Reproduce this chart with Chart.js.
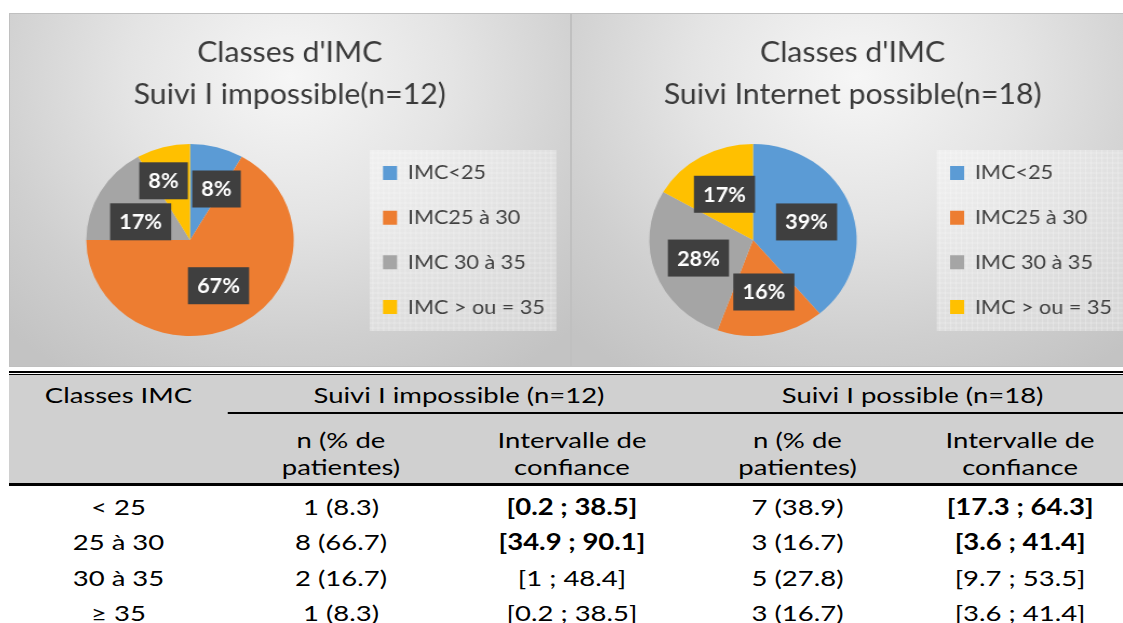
<!DOCTYPE html>
<html>
<head>
<meta charset="utf-8">
<script src="https://cdn.jsdelivr.net/npm/chart.js@4.4.1/dist/chart.umd.min.js"></script>
<style>
  body { margin: 0; width: 1123px; height: 623px; overflow: hidden; position: relative; background: #fff; font-family: Lato, sans-serif; }
  .panel { position: absolute; top: 13px; height: 354px; overflow: hidden;
    background: radial-gradient(ellipse 72% 100% at 50% 18%, #f6f6f6 0%, #e4e4e4 40%, #cfcfcf 75%, #c3c3c3 100%);
    box-shadow: inset 0 0 0 1px #c0c0c0; }
  .panel .wrap { position: absolute; left: 0; top: 0; transform-origin: 0 0; transform: scaleX(1.08); }
  #p1 { left: 9px; width: 562px; }
  #p2 { left: 571px; width: 572px; }
  #tbl { position: absolute; left: 9px; top: 369px; width: 901px; height: 254px; transform-origin: 0 0; transform: scaleX(1.25); }
  #tbl .bar { position: absolute; background: #000; }
  #tbl .c { position: absolute; height: 30px; line-height: 30px; text-align: center; font-size: 22px; color: #000; white-space: nowrap; }
</style>
</head>
<body>
<div class="panel" id="p1"><div class="wrap"><canvas id="c1" width="520" height="354"></canvas></div></div>
<div class="panel" id="p2"><div class="wrap"><canvas id="c2" width="530" height="354"></canvas></div></div>
<div id="tbl"></div>
<script>
// data
const classes = ['IMC<25', 'IMC25 à 30', 'IMC 30 à 35', 'IMC > ou = 35'];
const countsImpossible = [1, 8, 2, 1];
const countsPossible = [7, 3, 5, 3];
const pctLabelsImpossible = ['8%', '67%', '17%', '8%'];
const pctLabelsPossible = ['39%', '16%', '28%', '17%'];
const colors = ['#5B9BD5', '#ED7D31', '#A5A5A5', '#FFC000'];

const rowLabels = ['< 25', '25 à 30', '30 à 35', '≥ 35'];
const pctImpossible = ['8.3', '66.7', '16.7', '8.3'];
const pctPossible = ['38.9', '16.7', '27.8', '16.7'];
const ciImpossible = ['[0.2 ; 38.5]', '[34.9 ; 90.1]', '[1 ; 48.4]', '[0.2 ; 38.5]'];
const ciPossible = ['[17.3 ; 64.3]', '[3.6 ; 41.4]', '[9.7 ; 53.5]', '[3.6 ; 41.4]'];
const boldRows = [true, true, false, false];

// dark boxes with white percentages, pushed apart when they overlap
const labelBoxes = {
  id: 'labelBoxes',
  afterDatasetsDraw(chart, args, opts) {
    const ctx = chart.ctx;
    const arcs = chart.getDatasetMeta(0).data;
    ctx.save();
    ctx.font = 'bold 20px Lato';
    const boxes = arcs.map((arc, i) => {
      const p = arc.getProps(['x', 'y', 'startAngle', 'endAngle', 'outerRadius'], true);
      const mid = (p.startAngle + p.endAngle) / 2;
      const d = p.outerRadius * opts.dist;
      return {
        cx: p.x + Math.cos(mid) * d, cy: p.y + Math.sin(mid) * d,
        w: ctx.measureText(opts.texts[i]).width + 17, h: 37, text: opts.texts[i]
      };
    });
    for (let it = 0; it < 20; it++) {
      for (let a = 0; a < boxes.length; a++) {
        for (let b = a + 1; b < boxes.length; b++) {
          const A = boxes[a], B = boxes[b];
          const ox = (A.w + B.w) / 2 + 4 - Math.abs(A.cx - B.cx);
          const oy = (A.h + B.h) / 2 + 4 - Math.abs(A.cy - B.cy);
          if (ox > 0 && oy > 0) {
            if (ox < oy) {
              const s = Math.sign(A.cx - B.cx) || 1;
              A.cx += s * ox / 2; B.cx -= s * ox / 2;
            } else {
              const s = Math.sign(A.cy - B.cy) || 1;
              A.cy += s * oy / 2; B.cy -= s * oy / 2;
            }
          }
        }
      }
    }
    boxes.forEach(bx => {
      ctx.fillStyle = '#3f3f3f';
      ctx.fillRect(bx.cx - bx.w / 2, bx.cy - bx.h / 2, bx.w, bx.h);
      ctx.fillStyle = '#ffffff';
      ctx.textAlign = 'center';
      ctx.textBaseline = 'middle';
      ctx.fillText(bx.text, bx.cx, bx.cy + 1);
    });
    ctx.restore();
  }
};

// light patterned area behind the legend
const legendPanel = {
  id: 'legendPanel',
  beforeDraw(chart) {
    const lg = chart.legend;
    const ctx = chart.ctx;
    const pad = chart.options.plugins.legend.labels.padding;
    const x = lg.left + pad - 12.4;
    const yc = (lg.top + lg.bottom) / 2;
    ctx.save();
    ctx.fillStyle = 'rgba(255,255,255,0.3)';
    ctx.fillRect(x, yc - 90, 173, 181);
    ctx.strokeStyle = 'rgba(255,255,255,0.25)';
    ctx.lineWidth = 1;
    ctx.beginPath();
    for (let gx = x + 3; gx < x + 173; gx += 5) { ctx.moveTo(gx, yc - 90); ctx.lineTo(gx, yc + 91); }
    for (let gy = yc - 87; gy < yc + 91; gy += 5) { ctx.moveTo(x, gy); ctx.lineTo(x + 173, gy); }
    ctx.stroke();
    ctx.restore();
  }
};

function makePie(id, title, counts, texts, padLeft, boxX) {
  const options = {
    responsive: false,
    animation: false,
    layout: { padding: { top: 0, right: 10, bottom: 13, left: padLeft } },
    plugins: {
      title: {
        display: true,
        text: title,
        color: '#3a3a3a',
        font: { family: 'Lato', size: 28, weight: 'normal', lineHeight: 1.5 },
        padding: { top: 19, bottom: 10 }
      },
      legend: {
        position: 'right',
        fullSize: false,
        labels: {
          color: '#404040',
          font: { family: 'Lato', size: 20 },
          boxWidth: 13,
          boxHeight: 14,
          padding: 24.7
        }
      },
      tooltip: { enabled: false },
      labelBoxes: { texts: texts, dist: 0.55 }
    }
  };
  const chart = new Chart(document.getElementById(id), {
    type: 'pie',
    data: {
      labels: classes,
      datasets: [{ data: counts, backgroundColor: colors, borderWidth: 0, radius: 96 }]
    },
    options: options,
    plugins: [legendPanel, labelBoxes]
  });
  // move the legend so its colour boxes sit where the original has them
  const dx = chart.legend.left + options.plugins.legend.labels.padding - boxX;
  options.layout.padding.right += dx;
  chart.update();
  return chart;
}

makePie('c1', ["Classes d'IMC", 'Suivi I impossible(n=12)'], countsImpossible, pctLabelsImpossible, 13.6, 346.3);
makePie('c2', ["Classes d'IMC", 'Suivi Internet possible(n=18)'], countsPossible, pctLabelsPossible, 10.7, 351);

// table below the charts
const tbl = document.getElementById('tbl');
const edges = [0, 175.2, 356, 544.8, 716.8, 901];

function bar(left, top, width, height, color) {
  const d = document.createElement('div');
  d.className = 'bar';
  Object.assign(d.style, { left: left + 'px', top: top + 'px', width: width + 'px', height: height + 'px' });
  if (color) d.style.background = color;
  tbl.appendChild(d);
}
function cell(text, c0, c1, yc, bold) {
  const d = document.createElement('div');
  d.className = 'c';
  d.textContent = text;
  Object.assign(d.style, { left: edges[c0] + 'px', width: (edges[c1] - edges[c0]) + 'px', top: (yc - 15) + 'px' });
  if (bold) d.style.fontWeight = 'bold';
  tbl.appendChild(d);
}

bar(0, 6, 901, 108, '#d0d0d0');
bar(0, 2, 901, 2);
bar(0, 5, 901, 1);
bar(edges[1], 43, 901 - edges[1], 1.5);
bar(0, 114, 901, 2.5);

cell('Classes IMC', 0, 1, 25.6);
cell('Suivi I impossible (n=12)', 1, 3, 25.6);
cell('Suivi I possible (n=18)', 3, 5, 25.6);
[1, 3].forEach(c => {
  cell('n (% de', c, c + 1, 70.6);
  cell('patientes)', c, c + 1, 98.4);
  cell('Intervalle de', c + 1, c + 2, 70.6);
  cell('confiance', c + 1, c + 2, 98.4);
});
rowLabels.forEach((r, i) => {
  const y = 138 + i * 35.4;
  cell(r, 0, 1, y);
  cell(countsImpossible[i] + ' (' + pctImpossible[i] + ')', 1, 2, y);
  cell(ciImpossible[i], 2, 3, y, boldRows[i]);
  cell(countsPossible[i] + ' (' + pctPossible[i] + ')', 3, 4, y);
  cell(ciPossible[i], 4, 5, y, boldRows[i]);
});
</script>
</body>
</html>
